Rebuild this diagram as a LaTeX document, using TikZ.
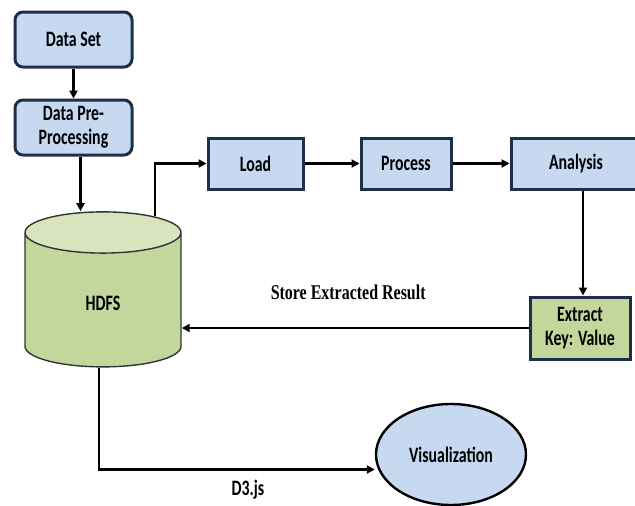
\documentclass[tikz,border=0pt]{standalone}
\usepackage{fontspec}
\newfontfamily\boxfont{Carlito}[FakeStretch=0.72]
\newfontfamily\condserif{Liberation Serif}[FakeStretch=0.76]
\usetikzlibrary{shapes.geometric,arrows.meta,positioning}
\definecolor{boxblue}{HTML}{C6D9F1}
\definecolor{boxline}{HTML}{1F2F4A}
\definecolor{boxgreen}{HTML}{C3D69B}
\definecolor{topgreen}{HTML}{D7E4BD}

\begin{document}
\begin{tikzpicture}[x=1pt, y=-1pt,
    node distance=30pt,
    font=\boxfont\bfseries\fontsize{22}{24}\selectfont,
    box/.style={rectangle, draw=boxline, line width=3pt, fill=boxblue,
                minimum height=51pt, align=center, inner sep=2pt},
    rbox/.style={box, rounded corners=8pt, minimum width=117pt, minimum height=55pt},
    arr/.style={-{Triangle[length=8pt,width=8pt]}, line width=2.6pt, black}
]
    \useasboundingbox (0,0) rectangle (635,506);

    \node[rbox] (dataset) at (73.5,39.5) {Data Set};
    \node[rbox, below=30pt of dataset] (prep) {Data Pre-\\Processing};
    \node[cylinder, shape border rotate=90, draw=black!80, line width=1.4pt, aspect=1,
          minimum width=156pt, minimum height=155pt, cylinder uses custom fill,
          cylinder body fill=boxgreen, cylinder end fill=topgreen] (hdfs) at (103,303) {HDFS};

    \node[box, minimum width=95pt] (load) at (255.5,163.5) {Load};
    \node[box, minimum width=90pt, right=55pt of load] (process) {Process};
    \node[box, minimum width=130pt, right=57pt of process] (analysis) {Analysis};
    \node[box, fill=boxgreen, minimum width=100pt, minimum height=62pt] (extract) at (580,328) {Extract\\Key: Value};
    \node[ellipse, draw=black, line width=2.4pt, fill=boxblue,
          minimum width=150pt, minimum height=101pt] (vis) at (451,454.5) {Visualization};

    \draw[arr] (dataset) -- (prep);
    \draw[arr] ([xshift=7pt]prep.south) -- ([xshift=7pt]prep.south |- hdfs.north);
    \draw[arr] ([xshift=52pt,yshift=-5pt]hdfs.north) |- (load);
    \draw[arr] (load) -- (process);
    \draw[arr] (process) -- (analysis);
    \draw[arr] ([xshift=7pt]analysis.south) -- ([xshift=7pt]analysis.south |- extract.north);
    \draw[arr] (extract.west) -- (extract.west -| hdfs.east)
        node[pos=0.52, above=24pt, font=\condserif\bfseries\fontsize{21}{22}\selectfont] {Store Extracted Result};
    \draw[arr] ([xshift=-4pt]hdfs.south) |- ([yshift=-15pt]vis.west)
        node[pos=0.77, below=6pt] {D3.js};
\end{tikzpicture}
\end{document}
